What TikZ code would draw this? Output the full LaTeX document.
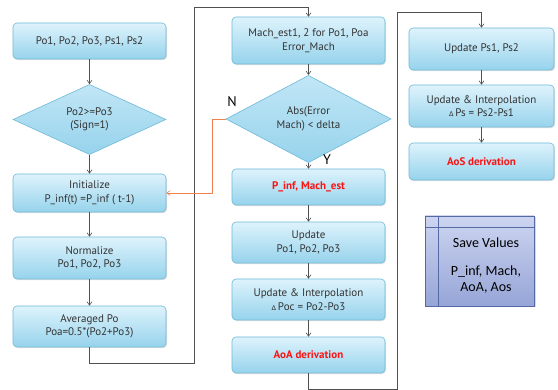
\documentclass[tikz,border=0pt]{standalone}
\usepackage{fontspec}
\setmainfont{PT Sans}
\newfontfamily\calib{Carlito}
\newfontfamily\dejav{DejaVu Sans}
\usetikzlibrary{shapes.geometric,arrows.meta,shadows}
\definecolor{boxtop}{RGB}{222,243,252}
\definecolor{boxbot}{RGB}{150,211,236}
\definecolor{boxline}{RGB}{110,185,215}
\definecolor{txt}{RGB}{50,50,50}
\definecolor{conn}{RGB}{80,80,80}
\definecolor{orangec}{RGB}{240,130,80}
\definecolor{savetop}{RGB}{205,213,240}
\definecolor{savebot}{RGB}{150,165,215}
\definecolor{saveline}{RGB}{85,105,165}
\definecolor{redt}{RGB}{250,20,20}
\newcommand{\dlt}{{\dejav\fontsize{6.5}{7}\selectfont Δ}}
\begin{document}
\begin{tikzpicture}[x=1pt,y=-1pt,
  font=\fontsize{11}{13.5}\selectfont,
  stepbox/.style={draw=boxline, line width=0.6pt, rounded corners=4pt,
    top color=boxtop, bottom color=boxbot, text=txt, align=center,
    drop shadow={opacity=0.25, shadow xshift=1pt, shadow yshift=-1.2pt}},
  decbox/.style={diamond, draw=boxline, line width=0.6pt, inner sep=0pt,
    top color=boxtop!60!boxbot, bottom color=boxbot, text=txt, align=center},
  redtxt/.style={text=redt, font=\fontsize{11}{13.5}\selectfont\bfseries},
  conn/.style={draw=conn, line width=0.6pt, -{Straight Barb[length=3.5pt,width=5pt]}},
  lbl/.style={font=\fontsize{14}{16}\selectfont, text=black}]
\useasboundingbox (0,0) rectangle (558,390);
% column 1
\node[stepbox, minimum width=153pt, minimum height=36pt] (in) at (89.5,41) {Po1, Po2, Po3, Ps1, Ps2};
\node[decbox, minimum width=153pt, minimum height=67pt] (d1) at (89.5,119.5) {Po2>=Po3\\(Sign=1)};
\node[stepbox, minimum width=153pt, minimum height=38pt] (init) at (89.5,193) {Initialize\\P\_inf(t) =P\_inf ( t-1)};
\node[stepbox, minimum width=153pt, minimum height=42pt] (norm) at (89.5,258) {Normalize\\Po1, Po2, Po3};
\node[stepbox, minimum width=153pt, minimum height=41pt] (avg) at (89.5,326.5) {Averaged Po\\Poa=0.5*(Po2+Po3)};
% column 2
\node[stepbox, minimum width=153pt, minimum height=47pt] (mach) at (308.5,40.5) {Mach\_est1, 2 for Po1, Poa\\Error\_Mach};
\node[decbox, minimum width=165pt, minimum height=68pt] (d2) at (308.5,119) {Abs(Error\\Mach) < delta};
\node[stepbox, redtxt, minimum width=153pt, minimum height=36pt] (pinf) at (308.5,187) {P\_inf, Mach\_est};
\node[stepbox, minimum width=153pt, minimum height=41pt] (upd) at (308.5,242.5) {Update\\Po1, Po2, Po3};
\node[stepbox, minimum width=153pt, minimum height=41pt] (uip) at (308.5,299.5) {Update \& Interpolation\\\dlt\,Poc = Po2-Po3};
\node[stepbox, redtxt, minimum width=153pt, minimum height=36pt] (aoa) at (308.5,355) {AoA derivation};
% column 3
\node[stepbox, minimum width=145pt, minimum height=42pt] (ups) at (481.5,49) {Update Ps1, Ps2};
\node[stepbox, minimum width=145pt, minimum height=42pt] (uis) at (481.5,106) {Update \& Interpolation\\\dlt\,Ps = Ps2-Ps1};
\node[stepbox, redtxt, minimum width=145pt, minimum height=37pt] (aos) at (481.5,161.5) {AoS derivation};
% save values
\node[draw=saveline, line width=0.6pt, top color=savetop, bottom color=savebot,
  minimum width=109pt, minimum height=90pt,
  drop shadow={opacity=0.3, shadow xshift=1.5pt, shadow yshift=-1.5pt}] (save) at (479.5,261) {};
\draw[saveline, line width=0.6pt] (438,216) -- (438,306) (425,227) -- (534,227);
\node[font=\calib\fontsize{14}{16}\selectfont, text=black, align=center] (savet) at (486,266)
  {Save Values\\[12pt]P\_inf, Mach,\\AoA, Aos};
% labels
\node[lbl] (nl) at (232,102) {N};
\node[lbl] (yl) at (327,160) {Y};
% connectors
\coordinate (a1) at (194,363);
\coordinate (a2) at (194,7);
\coordinate (b1) at (397,389);
\coordinate (b2) at (397,12);
\coordinate (o1) at (212,119);
\draw[conn] (in) -- (d1);
\draw[conn] (d1) -- (init);
\draw[conn] (init) -- (norm);
\draw[conn] (norm) -- (avg);
\draw[conn] (avg.south) |- (a1) -- (a2) -| (mach.north);
\draw[conn] (mach) -- (d2);
\draw[conn] (d2) -- (pinf);
\draw[conn] (pinf) -- (upd);
\draw[conn] (upd) -- (uip);
\draw[conn] (uip) -- (aoa);
\draw[conn] (aoa.south) |- (b1) -- (b2) -| (ups.north);
\draw[conn] (ups) -- (uis);
\draw[conn] (uis) -- (aos);
\draw[conn, draw=orangec] (d2.west) -- (o1) |- (init.east);
\end{tikzpicture}
\end{document}
